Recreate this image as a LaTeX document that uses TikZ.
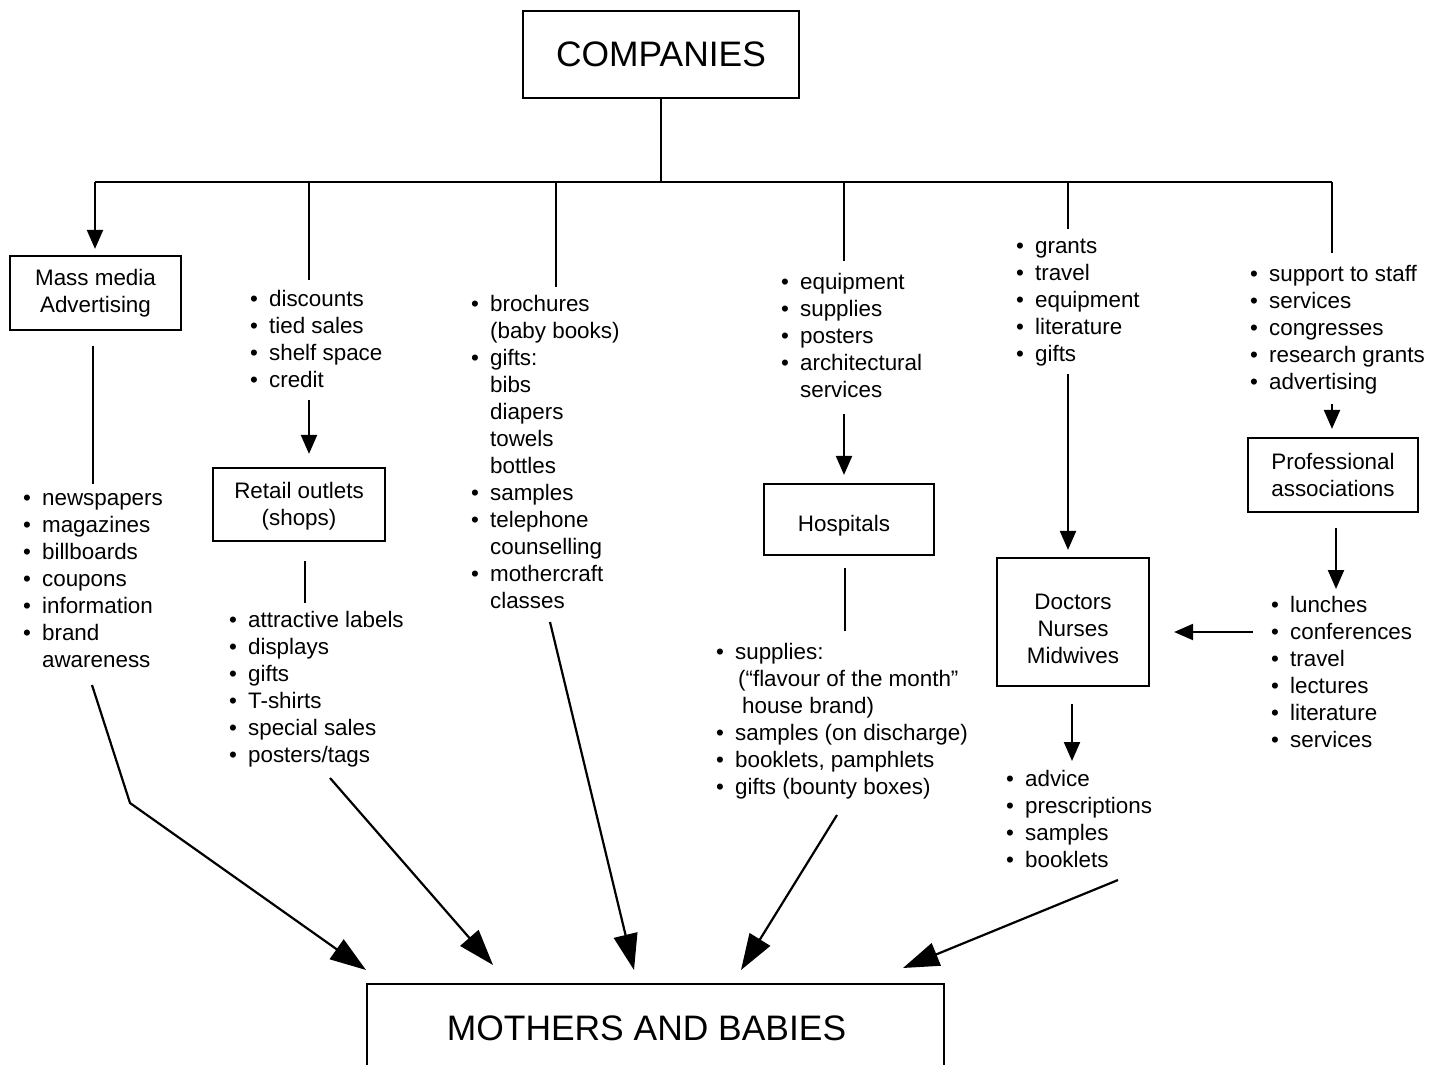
\documentclass[tikz,border=0pt]{standalone}
\usepackage{fontspec}
\setmainfont{Liberation Sans}
\usetikzlibrary{arrows.meta}
\newcommand{\blist}[1]{\begin{tabular}[t]{@{}p{9.5pt}@{}l@{}}#1\end{tabular}}
\newcommand{\bi}{\textbullet &}
\begin{document}
\begin{tikzpicture}[x=0.5pt,y=-0.5pt, line width=1.1pt,
  every node/.style={font=\fontsize{11.2}{13.5}\selectfont},
  box/.style={draw, line width=1.1pt, inner sep=0pt, align=center},
  lst/.style={anchor=base west, inner sep=0pt},
  sarr/.style={-{Triangle[length=9.5pt,width=8pt]}},
  barr/.style={-{Triangle[length=18pt,width=12pt]}}]
\useasboundingbox (0,0) rectangle (1440,1065);

% top box and bar
\node[box, minimum width=138pt, minimum height=43.5pt, font=\fontsize{17.7}{21}\selectfont] (comp) at (661,54.5) {COMPANIES};
\coordinate (top) at (661,182);
\coordinate (j1) at (95,182);
\coordinate (j2) at (309,182);
\coordinate (j3) at (556,182);
\coordinate (j4) at (844,182);
\coordinate (j5) at (1068,182);
\coordinate (j6) at (1332,182);
\draw (comp.south) -- (top);
\draw (j1) -- (j6);

% column 1: mass media
\node[box, minimum width=85.5pt, minimum height=37pt] (mm) at (95.5,293) {Mass media\\Advertising};
\node[lst] (news) at (22,505) {\blist{\bi newspapers\\ \bi magazines\\ \bi billboards\\ \bi coupons\\ \bi information\\ \bi brand\\ & awareness}};
\coordinate (c1b) at (93,0);
\draw[sarr, shorten >=3pt] (j1) -- (j1 |- mm.north);
\draw[shorten <=7.5pt, shorten >=0.5pt] (c1b |- mm.south) -- (c1b |- news.north);

% column 2: retail
\node[lst] (disc) at (249,306) {\blist{\bi discounts\\ \bi tied sales\\ \bi shelf space\\ \bi credit}};
\node[box, minimum width=86pt, minimum height=36.5pt] (retail) at (299,504.5) {\rule{0pt}{10.2pt}Retail outlets\\(shops)};
\node[lst] (attr) at (228,627) {\blist{\bi attractive labels\\ \bi displays\\ \bi gifts\\ \bi T-shirts\\ \bi special sales\\ \bi posters/tags}};
\coordinate (c2b) at (305,0);
\draw[shorten >=3pt] (j2) -- (j2 |- disc.north);
\draw[sarr, shorten <=2pt, shorten >=6.5pt] (j2 |- disc.south) -- (j2 |- retail.north);
\draw[shorten <=9.5pt, shorten >=2pt] (c2b |- retail.south) -- (c2b |- attr.north);

% column 3: brochures
\node[lst] (broch) at (470,311) {\blist{\bi brochures\\ & (baby books)\\ \bi gifts:\\ & bibs\\ & diapers\\ & towels\\ & bottles\\ \bi samples\\ \bi telephone\\ & counselling\\ \bi mothercraft\\ & classes}};
\draw[shorten >=2pt] (j3) -- (j3 |- broch.north);

% column 4: hospitals
\node[lst] (heq) at (780,289) {\blist{\bi equipment\\ \bi supplies\\ \bi posters\\ \bi architectural\\ & services}};
\node[box, minimum width=85pt, minimum height=35.5pt] (hosp) at (849,519.5) {\hspace*{-5pt}\rule{0pt}{14pt}Hospitals};
\node[lst] (hsup) at (715,659) {\blist{\bi supplies:\\ & \hspace*{1.5pt}(“flavour of the month”\\ & \hspace*{3.5pt}house brand)\\ \bi samples (on discharge)\\ \bi booklets, pamphlets\\ \bi gifts (bounty boxes)}};
\coordinate (c4b) at (845,0);
\draw[shorten >=4pt] (j4) -- (j4 |- heq.north);
\draw[sarr, shorten <=4pt, shorten >=4pt] (j4 |- heq.south) -- (j4 |- hosp.north);
\draw[shorten <=6pt, shorten >=4pt] (c4b |- hosp.south) -- (c4b |- hsup.north);

% column 5: doctors
\node[lst] (grants) at (1015,253) {\blist{\bi grants\\ \bi travel\\ \bi equipment\\ \bi literature\\ \bi gifts}};
\node[box, minimum width=76pt, minimum height=64pt] (doc) at (1073,622) {\rule{0pt}{15pt}Doctors\\Nurses\\Midwives};
\node[lst] (adv) at (1005,786) {\blist{\bi advice\\ \bi prescriptions\\ \bi samples\\ \bi booklets}};
\coordinate (c5b) at (1072,0);
\draw[shorten >=2pt] (j5) -- (j5 |- grants.north);
\draw[sarr, shorten <=2pt, shorten >=3.5pt] (j5 |- grants.south) -- (j5 |- doc.north);
\draw[sarr, shorten <=8.5pt, shorten >=2.5pt] (c5b |- doc.south) -- (c5b |- adv.north);

% column 6: professional associations
\node[lst] (supp) at (1249,281) {\blist{\bi support to staff\\ \bi services\\ \bi congresses\\ \bi research grants\\ \bi advertising}};
\node[box, minimum width=85pt, minimum height=37pt] (prof) at (1333,475) {Professional\\associations};
\node[lst] (lunch) at (1270,612) {\blist{\bi lunches\\ \bi conferences\\ \bi travel\\ \bi lectures\\ \bi literature\\ \bi services}};
\coordinate (c6b) at (1336,0);
\coordinate (lc) at (1253,632);
\draw[shorten >=4pt] (j6) -- (j6 |- supp.north);
\draw[sarr, shorten <=3pt, shorten >=4pt] (j6 |- supp.south) -- (j6 |- prof.north);
\draw[sarr, shorten <=7.5pt, shorten >=1.5pt] (c6b |- prof.south) -- (c6b |- lunch.north);
\draw[sarr, shorten >=12pt] (lc) -- (lc -| doc.east);

% bottom box
\node[inner sep=0pt, minimum width=287.5pt, minimum height=43pt, font=\fontsize{17.7}{21}\selectfont] (mb) at (655.5,1028) {MOTHERS AND BABIES\hspace*{9pt}};
\draw (mb.south west) -- (mb.north west) -- (mb.north east) -- (mb.south east);

% arrows to mothers and babies
\coordinate (m1) at (92,685);
\coordinate (m2) at (130,803);
\coordinate (t1) at (366,970);
\coordinate (r1) at (330,778);
\coordinate (t2) at (493,965);
\coordinate (b1) at (550,622);
\coordinate (t3) at (634,970);
\coordinate (h1) at (837,815);
\coordinate (t4) at (741,970);
\coordinate (d1) at (1118,880);
\coordinate (t5) at (903,968);
\draw[barr] (m1) -- (m2) -- (t1);
\draw[barr] (r1) -- (t2);
\draw[barr] (b1) -- (t3);
\draw[barr] (h1) -- (t4);
\draw[barr] (d1) -- (t5);
\end{tikzpicture}
\end{document}
